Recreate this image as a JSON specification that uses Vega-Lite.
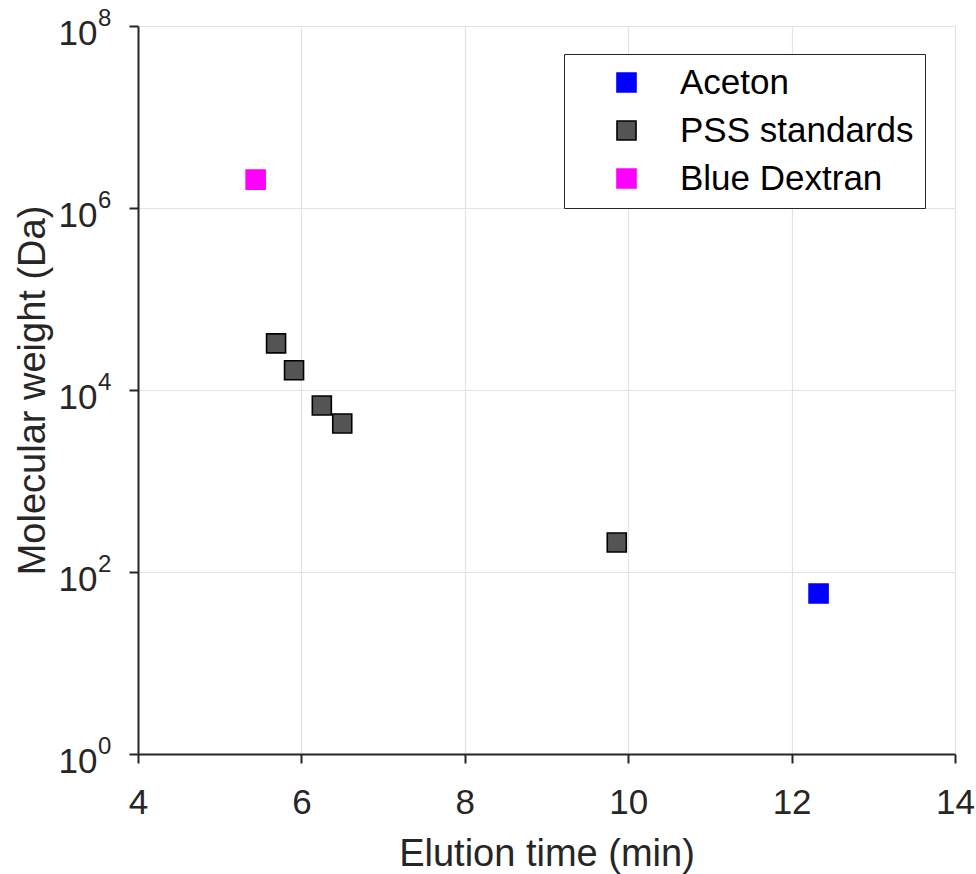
{
  "$schema": "https://vega.github.io/schema/vega-lite/v6.json",
  "width": 817,
  "height": 728,
  "autosize": "none",
  "padding": {"left": 138, "top": 26, "right": 21, "bottom": 120},
  "background": "white",
  "config": {
    "font": "Liberation Sans",
    "view": {"stroke": null},
    "axis": {
      "domainColor": "#262626",
      "domainWidth": 2,
      "tickColor": "#262626",
      "tickWidth": 2,
      "tickSize": 9,
      "labelColor": "#262626",
      "labelFontSize": 35,
      "labelFont": "Liberation Sans",
      "labelFlush": false,
      "titleFont": "Liberation Sans",
      "titleFontSize": 38,
      "titleFontWeight": "normal",
      "titleColor": "#262626",
      "gridColor": "#e3e3e3",
      "gridWidth": 1.2
    }
  },
  "layer": [
    {
      "data": {
        "values": [
          {"t": 5.44, "mw": 2050000, "sample": "Blue Dextran"},
          {"t": 5.69, "mw": 32500, "sample": "PSS standards"},
          {"t": 5.91, "mw": 16500, "sample": "PSS standards"},
          {"t": 6.25, "mw": 6760, "sample": "PSS standards"},
          {"t": 6.5, "mw": 4290, "sample": "PSS standards"},
          {"t": 9.86, "mw": 211, "sample": "PSS standards"},
          {"t": 12.33, "mw": 58, "sample": "Aceton"}
        ]
      },
      "mark": {"type": "point", "shape": "square", "filled": true, "size": 361, "opacity": 1, "strokeWidth": 1.6, "strokeOpacity": 1},
      "encoding": {
        "x": {
          "field": "t",
          "type": "quantitative",
          "scale": {"domain": [4, 14], "nice": false, "zero": false},
          "axis": {
            "title": "Elution time (min)",
            "values": [4, 6, 8, 10, 12, 14],
            "format": "d",
            "labelPadding": 22,
            "titlePadding": 15
          }
        },
        "y": {
          "field": "mw",
          "type": "quantitative",
          "scale": {"type": "log", "domain": [1, 100000000], "nice": false},
          "axis": {
            "title": "Molecular weight (Da)",
            "values": [1, 100, 10000, 1000000, 100000000],
            "labelExpr": "'10'",
            "labelPadding": 32,
            "labelOffset": 7,
            "titlePadding": 6
          }
        },
        "fill": {
          "field": "sample",
          "type": "nominal",
          "scale": {
            "domain": ["Aceton", "PSS standards", "Blue Dextran"],
            "range": ["#0000ff", "#545454", "#ff00ff"]
          },
          "legend": {
            "title": null,
            "orient": "none",
            "legendX": 426,
            "legendY": 28,
            "fillColor": "white",
            "strokeColor": "#262626",
            "padding": 11,
            "rowPadding": 12,
            "symbolType": "square",
            "symbolSize": 361,
            "symbolStrokeWidth": 1.6,
            "symbolOffset": 34,
            "labelOffset": 36,
            "labelFontSize": 35,
            "labelColor": "black",
            "labelLimit": 400
          }
        },
        "stroke": {
          "field": "sample",
          "type": "nominal",
          "scale": {
            "domain": ["Aceton", "PSS standards", "Blue Dextran"],
            "range": ["#0000ff", "#000000", "#ff00ff"]
          },
          "legend": {
            "title": null,
            "orient": "none",
            "legendX": 426,
            "legendY": 28,
            "fillColor": "white",
            "strokeColor": "#262626",
            "padding": 11,
            "rowPadding": 12,
            "symbolType": "square",
            "symbolSize": 361,
            "symbolStrokeWidth": 1.6,
            "symbolOffset": 34,
            "labelOffset": 36,
            "labelFontSize": 35,
            "labelColor": "black",
            "labelLimit": 400
          }
        }
      }
    },
    {
      "data": {
        "values": [
          {"v": 1, "exponent": "0"},
          {"v": 100, "exponent": "2"},
          {"v": 10000, "exponent": "4"},
          {"v": 1000000, "exponent": "6"},
          {"v": 100000000, "exponent": "8"}
        ]
      },
      "mark": {"type": "text", "align": "left", "baseline": "middle", "dx": -40, "dy": -7, "fontSize": 24, "color": "#262626", "font": "Liberation Sans"},
      "encoding": {
        "x": {"datum": 4, "type": "quantitative"},
        "y": {"field": "v", "type": "quantitative"},
        "text": {"field": "exponent"}
      }
    }
  ]
}
